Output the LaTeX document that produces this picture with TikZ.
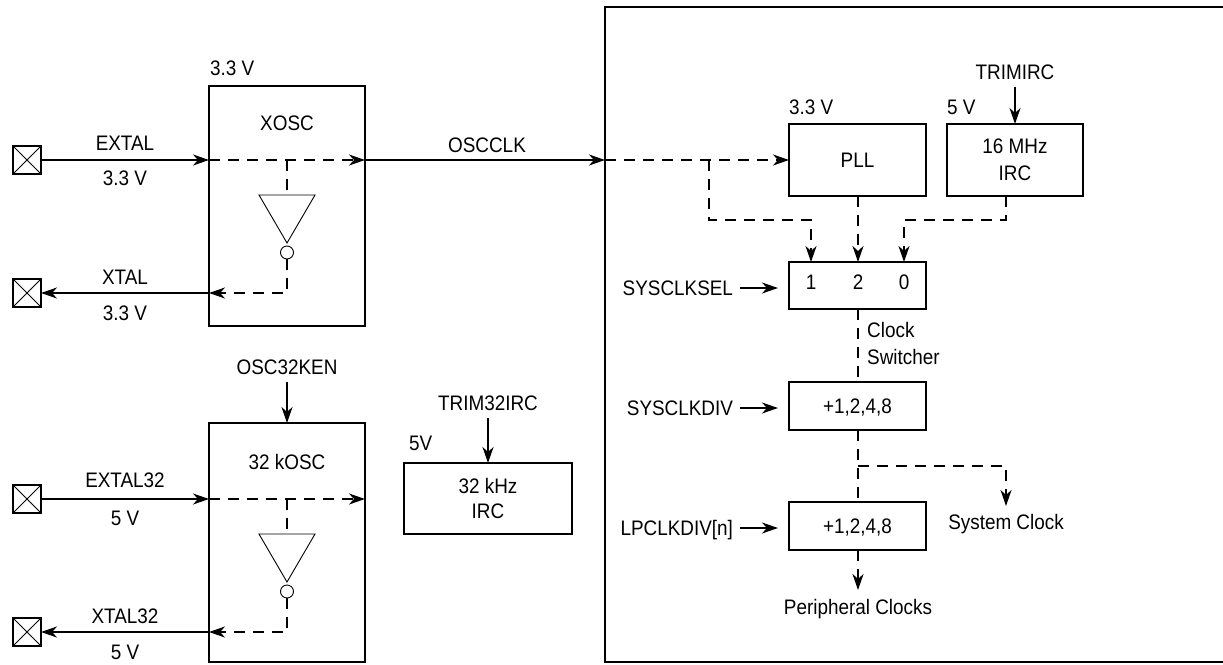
\documentclass[tikz,border=0pt]{standalone}
\usepackage{fontspec}
\setmainfont{Liberation Sans}[FakeStretch=0.9]
\usetikzlibrary{arrows.meta}
\begin{document}
\begin{tikzpicture}[x=1pt,y=-1pt,
  font=\fontsize{21}{27}\selectfont,
  blk/.style={draw, line width=2pt, inner sep=0pt, outer sep=0pt, align=center},
  lbl/.style={inner sep=0pt, outer sep=0pt, text height=15pt, text depth=0pt},
  sig/.style={line width=2pt, -{Stealth[length=16pt,width=11pt,inset=5pt]}},
  dsig/.style={sig, dash pattern=on 11pt off 8pt},
  dln/.style={line width=2pt, dash pattern=on 11pt off 8pt},
  pad/.style={draw, line width=2pt, minimum size=28pt, inner sep=0pt, outer sep=0pt},
  thin/.style={line width=0.9pt}]
\useasboundingbox (0,0) rectangle (1223,664);

% ---------- XOSC ----------
\node[blk, minimum width=156pt, minimum height=240pt] (xosc) at (287,206) {};
\node[lbl, anchor=west] (v1) at (210,68) {3.3 V};
\node[lbl] (xoscl) at (287,123) {XOSC};
\node[pad] (p1) at (27,160) {};
\node[pad] (p2) at (27,293) {};
\foreach \p in {p1,p2}{\draw[thin] (\p.north west) -- (\p.south east) (\p.north east) -- (\p.south west);}
\node[lbl] (extal) at (125,143) {EXTAL};
\node[lbl] (extalv) at (125,178) {3.3 V};
\node[lbl] (xtal) at (125,277) {XTAL};
\node[lbl] (xtalv) at (125,313) {3.3 V};
\coordinate (xin) at (xosc.west |- p1.east);
\coordinate (xout) at (xosc.east |- p1.east);
\coordinate (xret) at (xosc.west |- p2.east);
\coordinate (t1a) at (287,160);
\coordinate (t1b) at (287,195);
\coordinate (t1c) at (287,259);
\coordinate (t1d) at (287,293);
\draw[sig] (p1.east) -- (xin);
\draw[dsig] (xin) -- (xout);
\draw[dln] (t1a) -- (t1b);
\draw[thin] (259,195) -- (315,195) -- (287,243) -- cycle;
\draw[thin] (287,252.5) circle[radius=6.5pt];
\draw[dsig] (t1c) -- (t1d) -- (xret);
\draw[sig] (xret) -- (p2.east);

% ---------- 32 kOSC ----------
\node[blk, minimum width=156pt, minimum height=239pt] (kosc) at (287,542.5) {};
\node[lbl] (en) at (287,367) {OSC32KEN};
\draw[sig, shorten <=7pt] (en.south) -- (kosc.north);
\node[lbl] (koscl) at (287,462) {32 kOSC};
\node[pad] (p3) at (27,499) {};
\node[pad] (p4) at (27,632) {};
\foreach \p in {p3,p4}{\draw[thin] (\p.north west) -- (\p.south east) (\p.north east) -- (\p.south west);}
\node[lbl] (extal32) at (125,480) {EXTAL32};
\node[lbl] (extal32v) at (125,518) {5 V};
\node[lbl] (xtal32) at (125,616) {XTAL32};
\node[lbl] (xtal32v) at (125,652) {5 V};
\coordinate (kin) at (kosc.west |- p3.east);
\coordinate (kout) at (kosc.east |- p3.east);
\coordinate (kret) at (kosc.west |- p4.east);
\coordinate (t2a) at (287,499);
\coordinate (t2b) at (287,534);
\coordinate (t2c) at (287,598);
\coordinate (t2d) at (287,632);
\draw[sig] (p3.east) -- (kin);
\draw[dsig] (kin) -- (kout);
\draw[dln] (t2a) -- (t2b);
\draw[thin] (259,534) -- (315,534) -- (287,582) -- cycle;
\draw[thin] (287,591.5) circle[radius=6.5pt];
\draw[dsig] (t2c) -- (t2d) -- (kret);
\draw[sig] (kret) -- (p4.east);

% ---------- 32 kHz IRC ----------
\node[blk, minimum width=168pt, minimum height=71pt, font=\fontsize{21}{25}\selectfont] (irc32) at (488,498.5) {32 kHz\\IRC};
\node[lbl] (trim32) at (488,403) {TRIM32IRC};
\draw[sig, shorten <=7pt] (trim32.south) -- (irc32.north);
\node[lbl, anchor=west] (v5b) at (409,443) {5V};

% ---------- SoC box ----------
\node[blk, minimum width=640pt, minimum height=655pt] (soc) at (925,334.5) {};
\coordinate (sin) at (soc.west |- xout);
\node[lbl] (oscclk) at (487,145) {OSCCLK};
\draw[sig] (xout) -- (sin);

\node[blk, minimum width=137pt, minimum height=72pt, text height=15pt, text depth=0pt] (pll) at (857.5,160) {PLL};
\node[blk, minimum width=136pt, minimum height=72pt] (irc) at (1015,160) {16 MHz\\IRC};
\node[lbl, anchor=west] (v3) at (789,107) {3.3 V};
\node[lbl, anchor=west] (v4) at (947,107) {5 V};
\node[lbl] (trimirc) at (1015,72) {TRIMIRC};
\draw[sig, shorten <=7pt] (trimirc.south) -- (irc.north);

\coordinate (br1) at (709,160);
\draw[dsig] (sin) -- (pll.west);

\node[blk, minimum width=137pt, minimum height=47pt] (mux) at (857.5,285.5) {};
\node[lbl] (m1) at (811,282) {1};
\node[lbl] (m2) at (858,282) {2};
\node[lbl] (m0) at (904,282) {0};
\coordinate (in1) at (811,262);
\coordinate (in2) at (858,262);
\coordinate (in0) at (904,262);
\coordinate (pllout) at (858,196);
\coordinate (j1) at (709,220);
\coordinate (ircout) at (1006,196);
\coordinate (j2) at (1006,220);
\draw[dsig] (br1) -- (j1) -| (in1);
\draw[dsig] (pllout) -- (in2);
\draw[dsig] (ircout) -- (j2) -| (in0);

\node[lbl, anchor=east] (sel) at (733,288) {SYSCLKSEL};
\draw[sig, shorten <=7pt, shorten >=11pt] (sel.east) -- (mux.west |- sel.east);

\node[anchor=west, align=left, inner sep=0pt] (cs) at (867,343.5) {Clock\\Switcher};

\node[blk, minimum width=137pt, minimum height=48pt, text height=15pt, text depth=0pt] (div1) at (857.5,406) {+1,2,4,8};
\node[blk, minimum width=137pt, minimum height=48pt, text height=15pt, text depth=0pt] (div2) at (857.5,526) {+1,2,4,8};
\coordinate (muxout) at (858,309);
\coordinate (d1in) at (858,382);
\coordinate (d1out) at (858,430);
\coordinate (d2in) at (858,502);
\coordinate (d2out) at (858,550);
\draw[dln] (muxout) -- (d1in);
\draw[dln] (d1out) -- (d2in);

\node[lbl, anchor=east] (sdiv) at (733,408) {SYSCLKDIV};
\draw[sig, shorten <=7pt, shorten >=11pt] (sdiv.east) -- (div1.west |- sdiv.east);
\node[lbl, anchor=east] (ldiv) at (733,528) {LPCLKDIV[n]};
\draw[sig, shorten <=7pt, shorten >=11pt] (ldiv.east) -- (div2.west |- ldiv.east);

\coordinate (br2) at (858,466);
\coordinate (j3) at (1006,466);
\coordinate (sysend) at (1006,506);
\draw[dsig] (br2) -- (j3) -- (sysend);
\node[lbl] (sysclk) at (1006,522) {System Clock};

\coordinate (perend) at (858,590);
\draw[dsig] (d2out) -- (perend);
\node[lbl] (perclk) at (858,607) {Peripheral Clocks};
\end{tikzpicture}
\end{document}
